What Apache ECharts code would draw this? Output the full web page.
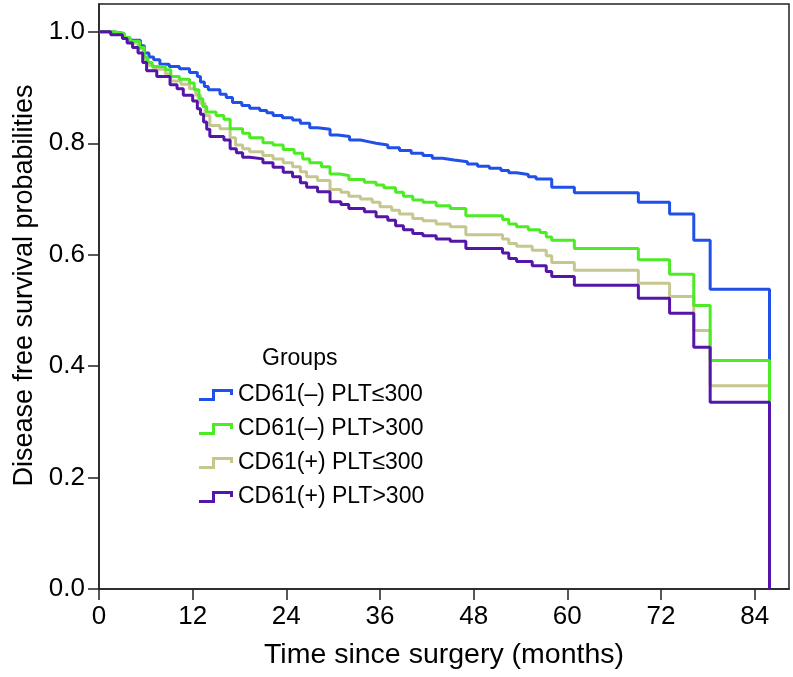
<!DOCTYPE html>
<html>
<head>
<meta charset="utf-8">
<script src="https://cdn.jsdelivr.net/npm/echarts@6/dist/echarts.min.js"></script>
<style>html,body{margin:0;padding:0;background:#fff}#c{width:793px;height:677px}</style>
</head>
<body>
<div id="c"></div>
<script>
// Group names
const groupNames = ['CD61(\u2013) PLT\u2264300', 'CD61(\u2013) PLT>300', 'CD61(+) PLT\u2264300', 'CD61(+) PLT>300'];
// Tick labels
const xTicks = [0, 12, 24, 36, 48, 60, 72, 84];
const yTicks = [0, 0.2, 0.4, 0.6, 0.8, 1.0];

// Kaplan-Meier step points: time (months) and survival after each drop
const blueTime = [0,2.0,3.2,3.8,5.3,5.8,6.4,7.0,7.8,9.0,10.3,11.6,12.6,13.0,13.5,14.0,15.5,16.3,17.1,18.3,19.3,20.6,21.5,22.3,23.5,24.8,25.8,27.0,28.0,29.6,30.6,32.1,33.5,34.5,35.5,37.0,38.5,40.0,41.5,42.7,44.0,45.5,47.2,48.5,50.0,51.5,52.5,53.5,55.0,56.0,58.0,60.9,69.1,73.1,76.2,78.3,85.9];
const blueSurv = [1.0,0.997,0.990,0.985,0.975,0.962,0.955,0.950,0.942,0.938,0.934,0.927,0.920,0.910,0.902,0.896,0.888,0.882,0.873,0.868,0.863,0.859,0.855,0.850,0.846,0.842,0.836,0.828,0.825,0.815,0.812,0.806,0.803,0.800,0.797,0.792,0.787,0.782,0.778,0.773,0.770,0.767,0.763,0.759,0.755,0.751,0.747,0.744,0.740,0.736,0.721,0.711,0.694,0.673,0.626,0.538,0];

const greenTime = [0,2.0,3.2,4.0,5.2,5.8,6.2,6.8,8.5,9.2,10.3,11.6,12.2,12.8,13.3,13.8,15.0,16.0,16.8,18.4,19.3,21.0,22.3,23.6,25.0,26.1,27.0,28.5,29.6,30.8,32.0,34.0,35.5,36.5,38.0,39.0,40.2,41.5,43.2,45.0,47.0,51.7,52.5,53.5,55.0,56.5,57.3,58.0,60.9,69.1,73.1,76.2,78.3,85.9];
const greenSurv = [1.0,0.997,0.990,0.983,0.972,0.955,0.945,0.938,0.932,0.920,0.915,0.908,0.896,0.880,0.866,0.856,0.850,0.843,0.826,0.818,0.810,0.801,0.797,0.789,0.782,0.772,0.765,0.758,0.745,0.742,0.735,0.730,0.725,0.720,0.712,0.705,0.698,0.694,0.688,0.683,0.670,0.663,0.655,0.650,0.645,0.640,0.632,0.626,0.611,0.591,0.565,0.509,0.410,0];

const khakiTime = [0,2.0,3.2,4.0,5.0,5.7,6.3,7.0,8.5,9.2,10.5,11.6,12.4,13.0,13.6,14.2,15.5,16.8,17.5,18.4,19.3,21.0,22.3,23.6,24.8,25.8,26.6,28.0,29.6,31.0,32.0,33.5,35.0,36.0,37.5,38.5,40.2,41.5,43.2,45.0,47.0,51.7,52.5,53.5,55.5,57.3,58.0,60.9,69.1,73.1,76.2,78.3,85.9];
const khakiSurv = [1.0,0.996,0.988,0.980,0.970,0.950,0.940,0.933,0.925,0.912,0.906,0.898,0.886,0.872,0.850,0.832,0.826,0.810,0.797,0.790,0.785,0.778,0.772,0.765,0.758,0.749,0.740,0.733,0.717,0.712,0.705,0.700,0.694,0.686,0.680,0.673,0.665,0.661,0.655,0.650,0.636,0.628,0.620,0.615,0.608,0.598,0.586,0.572,0.549,0.525,0.464,0.365,0];

const purpleTime = [0,1.5,3.0,3.6,4.3,5.0,5.6,6.1,7.4,9.1,10.0,10.8,12.0,12.6,13.0,13.4,13.8,14.2,16.0,16.8,17.6,18.4,19.3,21.0,22.3,23.6,24.8,25.8,26.6,28.0,29.6,31.0,32.0,34.0,35.5,37.0,38.0,39.0,40.2,41.5,43.2,45.0,47.0,51.7,52.5,53.5,55.5,57.3,58.0,60.9,69.1,73.1,76.2,78.3,85.9];
const purpleSurv = [1.0,0.995,0.988,0.980,0.972,0.962,0.945,0.930,0.920,0.905,0.898,0.886,0.876,0.862,0.852,0.838,0.825,0.812,0.806,0.790,0.783,0.775,0.772,0.765,0.757,0.748,0.740,0.729,0.721,0.713,0.695,0.690,0.683,0.677,0.668,0.662,0.652,0.645,0.638,0.634,0.628,0.624,0.611,0.603,0.593,0.588,0.580,0.570,0.561,0.545,0.522,0.495,0.434,0.335,0];

const FONT = "'Liberation Sans', Arial, Helvetica, sans-serif";
const colors = ['#2150e8', '#4ceb26', '#c6c78e', '#5416a8'];
const zOrder = [2, 4, 3, 5];
const timeArrs = [blueTime, greenTime, khakiTime, purpleTime];
const survArrs = [blueSurv, greenSurv, khakiSurv, purpleSurv];

const series = groupNames.map((name, i) => ({
  name: name,
  type: 'line',
  step: 'end',
  showSymbol: false,
  symbol: 'none',
  z: zOrder[i],
  silent: true,
  lineStyle: { width: 3, color: colors[i] },
  itemStyle: { color: colors[i], borderWidth: 0 },
  data: timeArrs[i].map((t, k) => [t, survArrs[i][k]])
}));

const chart = echarts.init(document.getElementById('c'), null, { renderer: 'canvas' });
chart.setOption({
  animation: false,
  backgroundColor: '#ffffff',
  textStyle: { fontFamily: FONT },
  title: {
    text: 'Groups', left: 262, top: 347, padding: 0,
    textStyle: { fontSize: 23, fontWeight: 'normal', color: '#000', fontFamily: FONT, lineHeight: 24 }
  },
  legend: {
    orient: 'vertical', left: 199, top: 383, padding: 0,
    itemWidth: 34, itemHeight: 12, itemGap: 10,
    icon: 'path://M0,9L13,9L13,0L34,0L34,6L31,6L31,3L16,3L16,12L0,12Z',
    selectedMode: false,
    itemStyle: { borderWidth: 0 },
    textStyle: { fontSize: 23, color: '#000', fontFamily: FONT, lineHeight: 24 },
    data: groupNames
  },
  grid: {
    left: 99, right: 4, top: 4, bottom: 88,
    show: true, borderColor: '#222', borderWidth: 1.5, backgroundColor: '#fff'
  },
  xAxis: {
    type: 'value', min: 0, max: 88.4, interval: 12,
    name: 'Time since surgery (months)', nameLocation: 'middle', nameGap: 52,
    nameTextStyle: { fontSize: 28.5, color: '#000', fontFamily: FONT },
    axisLine: { show: true, lineStyle: { color: '#222', width: 1.5 } },
    axisTick: { show: true, length: 11, lineStyle: { color: '#222', width: 1.5 }, customValues: xTicks },
    axisLabel: { fontSize: 26, color: '#000', margin: 15, fontFamily: FONT, customValues: xTicks,
      formatter: v => (xTicks.indexOf(v) >= 0 ? String(v) : '') },
    splitLine: { show: false }
  },
  yAxis: {
    type: 'value', min: 0, max: 1.05, interval: 0.2,
    name: 'Disease free survival probabilities', nameLocation: 'middle', nameGap: 57,
    nameTextStyle: { fontSize: 27, color: '#000', fontFamily: FONT, padding: [0, 0, 0, 22] },
    axisLine: { show: true, lineStyle: { color: '#222', width: 1.5 } },
    axisTick: { show: true, length: 11, lineStyle: { color: '#222', width: 1.5 }, customValues: yTicks },
    axisLabel: { fontSize: 26, color: '#000', margin: 14, fontFamily: FONT, customValues: yTicks,
      formatter: v => (v > 1.001 ? '' : v.toFixed(1)) },
    splitLine: { show: false }
  },
  series: series
});
</script>
</body>
</html>
